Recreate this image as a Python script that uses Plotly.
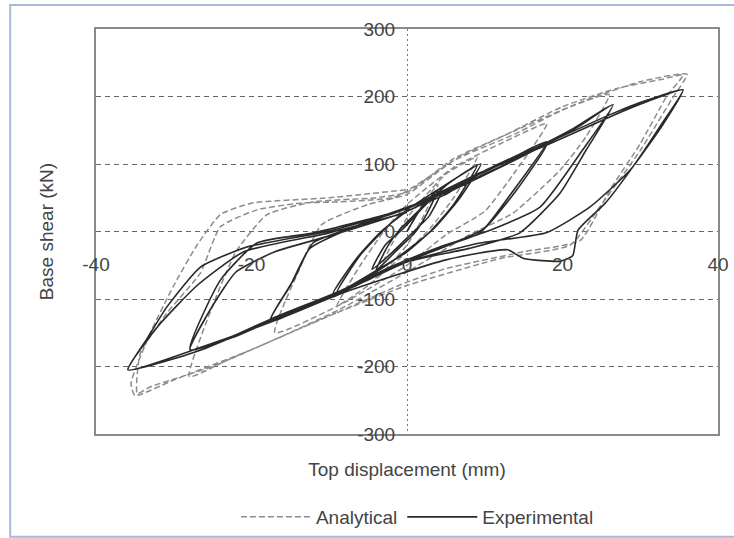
import plotly.graph_objects as go

# ---------------- data ----------------
x_ticks = [-40, -20, 0, 20, 40]
y_ticks = [-300, -200, -100, 0, 100, 200, 300]
y_grid = [-200, -100, 0, 100, 200]

# Experimental hysteresis (top displacement mm, base shear kN)
exp_x = [0, 2, 4, 2.5, 1, -1.5, -4, -2.5, -1,
         2, 4.5, 2.8, 0.5, -2, -4.5, -2.8, -0.5,
         2, 5, 9, 6, 3, 0, -4, -9, -6, -3,
         0, 4, 9.5, 6.5, 3.5, 0, -4, -9.5, -6.5, -3.5,
         0, 5, 10, 14, 18, 13, 9.4, 4, 0, -5, -9, -13, -17.6, -14.5, -12.1, -6,
         0, 6, 12, 18, 14, 10, 5, 0, -6, -12, -17.5, -15, -12.5, -7,
         0, 6, 12, 18, 22, 26.5, 23, 19.7, 14.5, 8, 0, -8.6, -17.2, -22, -27.9, -24, -19.3, -12, -5,
         0, 8, 15, 21, 26.5, 22.6, 17.1, 10.7, 4.2, -2, -8.6, -17.2, -23, -27.9, -25, -22, -17, -9.5,
         0, 9.4, 18, 26.5, 31, 35.5, 33, 28.7, 23.5, 17.9, 9.4, 0, -8.6, -17.2, -26.6, -31, -35.9,
         -33.5, -30.9, -26.6, -20.6, -9.5,
         0, 9, 18, 26.5, 31, 35.5, 32.5, 29, 25.5, 22, 21.3, 19.7, 15, 12.9, 5, -8, -17, -26.6, -35.9,
         -32, -27, -21, -10, 0]
exp_y = [0, 38, 62, 25, -2, -30, -58, -22, 2,
         36, 60, 22, -4, -32, -56, -20, 4,
         35, 68, 98, 40, 0, -30, -58, -90, -35, 2,
         32, 62, 100, 45, 5, -28, -60, -92, -40, -2,
         30, 55, 90, 112, 133, 50, -2, -25, -42, -72, -92, -112, -131, -70, -17, 10,
         34, 64, 96, 130, 60, 5, -22, -44, -75, -105, -130, -80, -25, 6,
         36, 62, 95, 130, 155, 188, 120, 57, -2, -25, -45, -90, -131, -155, -175, -72, -17, -2, 18,
         34, 78, 115, 150, 188, 121, 36, 2, -23, -52, -88, -128, -158, -175, -110, -60, -30, -5,
         30, 86, 131, 175, 195, 210, 160, 91, 36, -2, -17, -45, -91, -131, -176, -192, -205,
         -160, -112, -53, -23, 2,
         35, 85, 128, 172, 193, 210, 155, 95, 42, 2, -36, -44, -40, -27, -42, -90, -132, -172, -205,
         -140, -80, -30, -2, 28]

# Analytical hysteresis
ana_x = [0, 2, 4, 2, 0, -4, -2, 0,
         5, 9, 6, 3, 0, -5, -9, -6, -3, 0,
         6, 12, 18, 14, 10, 5, 0, -8, -17, -14, -11, -5, 0,
         6, 14, 20, 26, 23, 19.7, 13.6, 8, 0, -8.6, -17, -23, -28, -25, -22, -18, -12, -4, 0,
         6, 13, 20, 27, 33, 35.5, 33.4, 30, 26, 22.3, 15, 5, 0, -8.6, -17.2, -25, -33, -34.7,
         -34.3, -30.9, -26.6, -24, -19.3, -13.8, -8.6, -1.8, 0,
         7, 14, 22, 30, 36, 34, 30, 25, 21, 12, 0, -10, -20, -30, -35, -35.5,
         -33, -30, -27, -24, -20, -10, 0]
ana_y = [0, 40, 70, 20, -20, -70, -20, 20,
         85, 110, 50, 5, -30, -80, -110, -50, 0, 40,
         95, 130, 160, 90, 30, -5, -50, -105, -150, -60, 10, 40, 55,
         105, 145, 180, 203, 140, 91, 27, -5, -60, -115, -160, -190, -215, -110, -30, 25, 44, 50, 58,
         108, 145, 185, 212, 226, 232, 200, 130, 60, -13, -30, -55, -75, -118, -161, -200, -230, -240,
         -180, -121, -62, 7, 32, 42, 44, 50, 60,
         112, 150, 190, 222, 233, 195, 120, 40, -20, -40, -80, -125, -175, -220, -243, -225,
         -150, -80, -20, 25, 42, 50, 62]

FONT = "Liberation Sans, Arial, sans-serif"
TXT = "#444444"

fig = go.Figure()
fig.add_trace(go.Scatter(x=ana_x, y=ana_y, mode="lines", name="Analytical",
                         line=dict(color="#8c8c8c", width=1.5, dash="6px,3px",
                                   shape="spline", smoothing=0.5)))
fig.add_trace(go.Scatter(x=exp_x, y=exp_y, mode="lines", name="Experimental",
                         line=dict(color="#2a2a2a", width=1.6, shape="spline", smoothing=0.5)))
# carrier for the centred tick-label axes
fig.add_trace(go.Scatter(x=[None], y=[None], xaxis="x2", yaxis="y2",
                         showlegend=False, hoverinfo="skip"))

fig.update_layout(
    template="none",
    width=734, height=538,
    margin=dict(l=96, r=16, t=29, b=104, autoexpand=False),
    paper_bgcolor="white", plot_bgcolor="white",
    font=dict(family=FONT, size=19, color=TXT),
    xaxis=dict(range=[-40, 40], tickvals=[0], showticklabels=False, ticks="",
               showgrid=True, gridcolor="#777", gridwidth=1, griddash="2px,3px",
               zeroline=False, showline=True, mirror=True, linecolor="#8a8a8a", linewidth=1.5,
               automargin=False,
               title=dict(text="Top displacement (mm)", standoff=28,
                          font=dict(size=19, color=TXT))),
    yaxis=dict(range=[-300, 300], tickvals=y_grid, showticklabels=False, ticks="",
               showgrid=True, gridcolor="#666", gridwidth=1, griddash="5px,4px",
               zeroline=False, showline=True, mirror=True, linecolor="#8a8a8a", linewidth=1.5,
               automargin=False,
               title=dict(text="Base shear (kN)", standoff=36,
                          font=dict(size=19, color=TXT))),
    xaxis2=dict(overlaying="x", anchor="free", position=0.5, range=[-40, 40],
                tickvals=x_ticks, ticktext=[str(v) for v in x_ticks],
                ticks="outside", ticklen=16, tickcolor="rgba(0,0,0,0)",
                showgrid=False, zeroline=False, showline=False, automargin=False,
                tickfont=dict(size=19, color=TXT)),
    yaxis2=dict(overlaying="y", anchor="free", position=0.5, side="left", range=[-300, 300],
                tickvals=y_ticks, ticktext=[str(v) for v in y_ticks],
                ticks="outside", ticklen=8, tickcolor="rgba(0,0,0,0)",
                showgrid=False, zeroline=False, showline=False, automargin=False,
                tickfont=dict(size=19, color=TXT)),
    legend=dict(orientation="h", x=0.225, xanchor="left", y=-0.205, yanchor="middle",
                font=dict(size=19, color=TXT), itemwidth=70, bgcolor="rgba(0,0,0,0)"),
    showlegend=True,
    shapes=[dict(type="rect", xref="paper", yref="paper",
                 x0=-0.138, x1=1.05, y0=-0.254, y1=1.059,
                 line=dict(color="#a9b9dd", width=2), layer="below")],
)

fig.write_html("out.html")
